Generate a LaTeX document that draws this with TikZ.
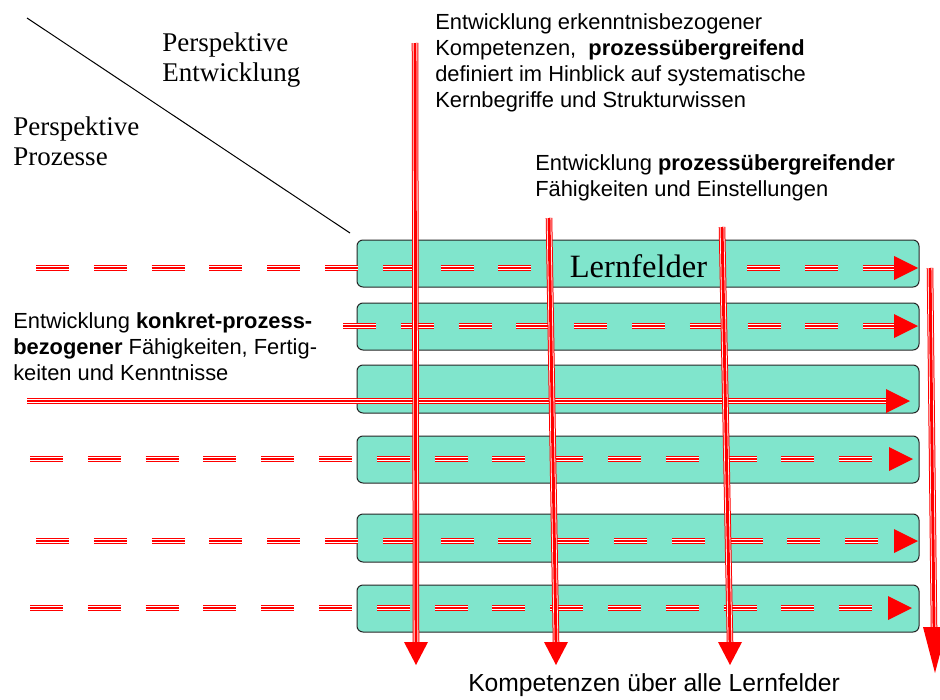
\documentclass[tikz,border=0pt]{standalone}
\usepackage{fontspec}
\setmainfont{Liberation Serif}
\newfontfamily\arial{Liberation Sans}
\definecolor{feld}{RGB}{128,229,204}
\tikzset{
  feldbox/.style={draw=black!85, line width=0.75pt, fill=feld, rounded corners=4.5pt,
    minimum width=421.5pt, minimum height=35.25pt, inner sep=0pt},
  % red triple stroke: thin - thick - thin
  rline/.style={draw=red, line width=4.9pt, #1,
    postaction={draw=white, line width=3.4pt, #1},
    postaction={draw=red, line width=2.2pt, #1}},
  rline/.default=solid,
  rdash/.style={rline={dash pattern=on 24.75pt off 18.6pt}},
  tipright/.pic={\fill[red] (-24,-12) -- (0,0) -- (-24,12) -- cycle;},
  tipdown/.pic={\fill[red] (-12,-23) -- (0,0) -- (12,-23) -- cycle;},
  tipdownlong/.pic={\fill[red] (-12,-46) -- (0,0) -- (12,-46) -- cycle;},
  sanstext/.style={font=\arial\fontsize{16.4pt}{19.5pt}\selectfont, align=left, inner sep=0pt},
  serftext/.style={font=\fontsize{20.25pt}{22.5pt}\selectfont, align=left, inner sep=0pt}
}
\begin{document}
\begin{tikzpicture}[x=0.75pt, y=-0.75pt]
\useasboundingbox (0,0) rectangle (940,700);

% corner heading
\coordinate (dA) at (27,18);
\coordinate (dB) at (350,233);
\draw[line width=0.75pt] (dA) -- (dB);
\node[serftext, anchor=base west] (pe) at (162,81) {Perspektive\\Entwicklung};
\node[serftext, anchor=base west] (pp) at (13,165) {Perspektive\\Prozesse};

% learning fields
\node[feldbox] (f1) at (638,263.5) {};
\node[feldbox] (f2) at (638,326.5) {};
\node[feldbox, minimum height=36pt] (f3) at (638,389) {};
\node[feldbox] (f4) at (638,459.5) {};
\node[feldbox, minimum height=36pt] (f5) at (638,538) {};
\node[feldbox] (f6) at (638,608.5) {};
\node[font=\fontsize{24.4pt}{28pt}\selectfont, anchor=base, inner sep=0pt] (lf) at (638.5,277) {Lernfelder};

% process lines (horizontal)
\coordinate (h1s) at (36,268);  \coordinate (h1m) at (532,268);
\coordinate (h1r) at (747,268); \coordinate (h1e) at (894,268);
\coordinate (h2s) at (343,326); \coordinate (h2e) at (894,326);
\coordinate (h3s) at (27,401);  \coordinate (h3e) at (886,401);
\coordinate (h4s) at (30,459);  \coordinate (h4e) at (889,459);
\coordinate (h5s) at (36,541);  \coordinate (h5e) at (894,541);
\coordinate (h6s) at (30,608);  \coordinate (h6e) at (888,608);
\draw[rdash] (h1s) -- (h1m);
\draw[rdash] (h1r) -- (h1e);
\draw[rdash] (h2s) -- (h2e);
\draw[rline] (h3s) -- (h3e);
\draw[rdash] (h4s) -- (h4e);
\draw[rdash] (h5s) -- (h5e);
\draw[rdash] (h6s) -- (h6e);
\pic at (918,268) {tipright};
\pic at (918,326) {tipright};
\pic at (910,401) {tipright};
\pic at (913,459) {tipright};
\pic at (918,541) {tipright};
\pic at (912,608) {tipright};

% development lines (vertical)
\coordinate (v1s) at (415,43);  \coordinate (v1e) at (416,642);
\coordinate (v2s) at (549,218); \coordinate (v2e) at (556,642);
\coordinate (v3s) at (722,227); \coordinate (v3e) at (730,642);
\coordinate (v4s) at (930,268); \coordinate (v4e) at (934,627);
\draw[rline] (v1s) -- (v1e);
\draw[rline] (v2s) -- (v2e);
\draw[rline] (v3s) -- (v3e);
\draw[rline] (v4s) -- (v4e);
\pic at (416,665) {tipdown};
\pic at (556,665) {tipdown};
\pic at (730,665) {tipdown};
\pic at (935,673) {tipdownlong};

% captions
\node[sanstext, anchor=base west] (t1) at (435,107)
  {Entwicklung erkenntnisbezogener\\Kompetenzen,\ \ \textbf{prozessübergreifend}\\definiert im Hinblick auf systematische\\Kernbegriffe und Strukturwissen};
\node[sanstext, anchor=base west] (t2) at (535,196)
  {Entwicklung \textbf{prozessübergreifender}\\Fähigkeiten und Einstellungen};
\node[sanstext, anchor=base west] (t3) at (13,380)
  {Entwicklung \textbf{konkret-prozess-}\\\textbf{bezogener} Fähigkeiten, Fertig-\\keiten und Kenntnisse};
\node[font=\arial\fontsize{18.5pt}{22pt}\selectfont, anchor=base west, inner sep=0pt] (t4) at (468,691)
  {Kompetenzen über alle Lernfelder};
\end{tikzpicture}
\end{document}
